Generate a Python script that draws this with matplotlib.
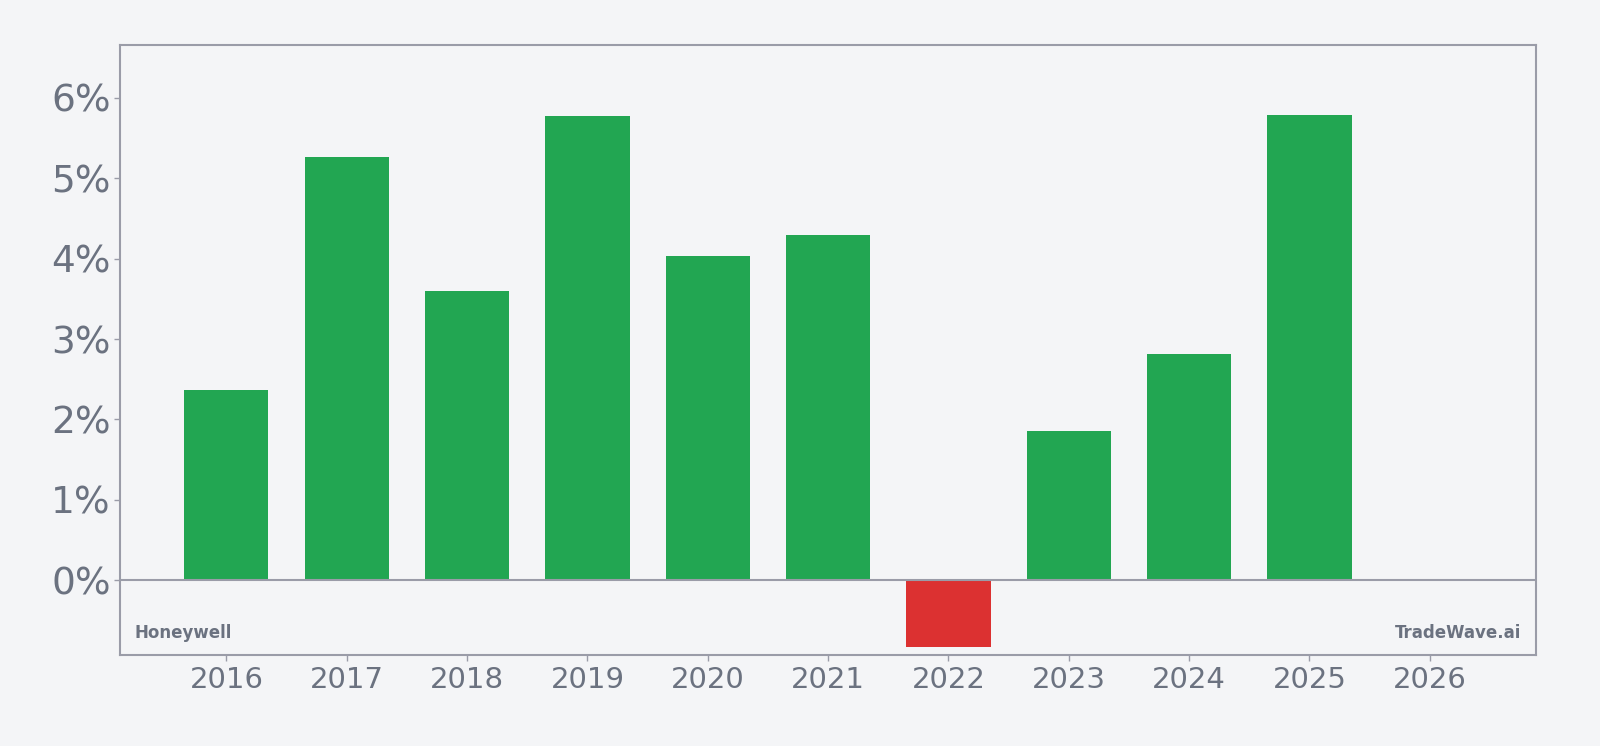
#!/usr/bin/env python3

import matplotlib
matplotlib.use('Agg')
import matplotlib.pyplot as plt
from matplotlib.ticker import FuncFormatter

years = ['2016', '2017', '2018', '2019', '2020', '2021', '2022', '2023', '2024', '2025', '2026']
growth = [2.37, 5.27, 3.60, 5.78, 4.03, 4.29, -0.83, 1.855, 2.82, 5.79, None]

BG = '#f4f5f7'
TEXT = '#6b7280'
EDGE = '#9a9ca8'
GREEN = '#22a652'
RED = '#dc3131'


def main():
    fig = plt.figure(figsize=(16, 7.46), dpi=100, facecolor=BG)
    ax = fig.add_axes([0.0753, 0.122, 0.8845, 0.8178], facecolor=BG)

    x = list(range(len(years)))
    for i, v in enumerate(growth):
        if v is None:
            continue
        ax.bar(i, v, width=0.7, color=GREEN if v >= 0 else RED, zorder=2)

    ax.set_ylim(-0.93, 6.66)
    ax.set_xlim(-0.88, len(years) - 1 + 0.88)

    ax.axhline(0, color=EDGE, lw=1.5, zorder=3)

    ax.set_xticks(x)
    ax.set_xticklabels(years)
    ax.set_yticks(range(0, 7))
    ax.yaxis.set_major_formatter(FuncFormatter(lambda v, p: '%d%%' % v))

    ax.tick_params(axis='y', labelsize=27, colors=EDGE, labelcolor=TEXT, length=4, width=1, pad=3)
    ax.tick_params(axis='x', labelsize=21, colors=EDGE, labelcolor=TEXT, length=4, width=1, pad=4)

    for s in ax.spines.values():
        s.set_color(EDGE)
        s.set_linewidth(1.5)

    ax.text(0.01, 0.022, 'Honeywell', transform=ax.transAxes, ha='left', va='bottom',
            fontsize=12, fontweight='bold', color=TEXT)
    ax.text(0.99, 0.022, 'TradeWave.ai', transform=ax.transAxes, ha='right', va='bottom',
            fontsize=12, fontweight='bold', color=TEXT)

    fig.savefig('out.png', dpi=100, facecolor=BG)


if __name__ == '__main__':
    main()
